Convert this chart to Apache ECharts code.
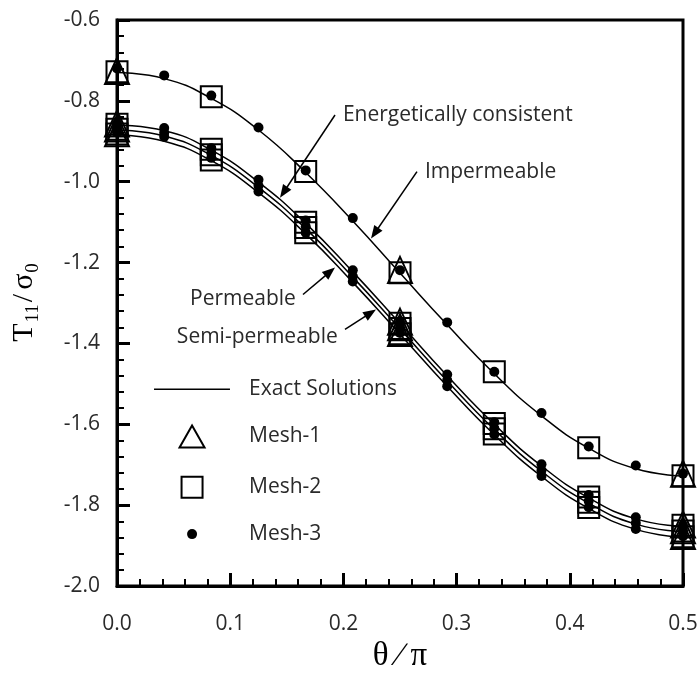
<!DOCTYPE html>
<html><head><meta charset="utf-8">
<script src="https://cdn.jsdelivr.net/npm/echarts@6/dist/echarts.min.js"></script>
<style>html,body{margin:0;padding:0;background:#fff}#c{width:700px;height:673px}</style>
</head><body><div id="c"></div>
<script>
// theta / pi sample positions
const theta = [0,0.0417,0.0833,0.125,0.1667,0.2083,0.25,0.2917,0.3333,0.375,0.4167,0.4583,0.5];
const theta2 = [0,0.0833,0.1667,0.25,0.3333,0.4167,0.5];
const theta1 = [0,0.25,0.5];

// Exact solutions (lines)
const exactImpermeable = [-0.730,-0.745,-0.794,-0.872,-0.977,-1.097,-1.226,-1.354,-1.475,-1.579,-1.659,-1.710,-1.728];
const exactEnergetic   = [-0.860,-0.874,-0.922,-1.001,-1.103,-1.223,-1.351,-1.480,-1.600,-1.703,-1.782,-1.834,-1.853];
const exactPermeable   = [-0.872,-0.887,-0.935,-1.014,-1.116,-1.236,-1.364,-1.493,-1.613,-1.716,-1.795,-1.847,-1.866];
const exactSemi        = [-0.884,-0.900,-0.948,-1.027,-1.129,-1.249,-1.377,-1.506,-1.626,-1.729,-1.808,-1.860,-1.880];

// Mesh-1 (triangles)
const mesh1Imp  = [-0.726,-1.218,-1.722];
const mesh1Ene  = [-0.856,-1.346,-1.848];
const mesh1Perm = [-0.868,-1.360,-1.862];
const mesh1Semi = [-0.880,-1.374,-1.876];

// Mesh-2 (squares)
const mesh2Imp  = [-0.728,-0.790,-0.975,-1.225,-1.470,-1.658,-1.727];
const mesh2Ene  = [-0.858,-0.920,-1.100,-1.350,-1.598,-1.780,-1.850];
const mesh2Perm = [-0.870,-0.933,-1.113,-1.363,-1.611,-1.793,-1.864];
const mesh2Semi = [-0.882,-0.946,-1.126,-1.376,-1.624,-1.806,-1.878];

// Mesh-3 (dots)
const mesh3Imp  = [-0.720,-0.737,-0.787,-0.866,-0.972,-1.090,-1.219,-1.348,-1.470,-1.572,-1.655,-1.702,-1.722];
const mesh3Ene  = [-0.856,-0.867,-0.917,-0.995,-1.096,-1.219,-1.346,-1.477,-1.595,-1.699,-1.775,-1.830,-1.850];
const mesh3Perm = [-0.866,-0.879,-0.929,-1.010,-1.111,-1.234,-1.360,-1.491,-1.610,-1.714,-1.790,-1.844,-1.863];
const mesh3Semi = [-0.878,-0.889,-0.941,-1.024,-1.126,-1.247,-1.374,-1.506,-1.625,-1.728,-1.805,-1.859,-1.877];

const legendLabels = ['Exact Solutions','Mesh-1','Mesh-2','Mesh-3'];

const zip = (xs, ys) => xs.map((x, i) => [x, ys[i]]);
const FONT = 'Open Sans';
const SERIF = 'Liberation Serif';
const TXT = '#2a2a2a';

const chart = echarts.init(document.getElementById('c'), null, {renderer: 'canvas'});

const lineSeries = (name, ys) => ({
  name, type: 'line', data: zip(theta, ys), smooth: true, showSymbol: false, symbol: 'none',
  lineStyle: {color: '#000', width: 1.5}, z: 2, silent: true
});
const markerStyle = {color: 'rgba(0,0,0,0)', borderColor: '#000', borderWidth: 2, opacity: 1};
const triSeries = ys => ({type: 'scatter', data: zip(theta1, ys), symbol: 'triangle', symbolSize: [24, 26],
  itemStyle: markerStyle, z: 3, clip: false, silent: true});
const sqSeries = ys => ({type: 'scatter', data: zip(theta2, ys), symbol: 'rect', symbolSize: 21,
  itemStyle: markerStyle, z: 4, clip: false, silent: true});
const dotSeries = ys => ({type: 'scatter', data: zip(theta, ys), symbol: 'circle', symbolSize: 10,
  itemStyle: {color: '#000', opacity: 1}, z: 5, clip: false, silent: true});

chart.setOption({
  animation: false,
  backgroundColor: '#fff',
  grid: {left: 117, right: 17, top: 20, bottom: 87, show: true, borderColor: '#000', borderWidth: 3,
         containLabel: false, outerBoundsMode: 'none'},
  xAxis: {
    type: 'value', min: 0, max: 0.5, interval: 0.1,
    name: 'θ ∕ π', nameLocation: 'middle', nameGap: 52,
    nameTextStyle: {fontFamily: SERIF, fontSize: 33, color: '#000'},
    axisLine: {show: true, onZero: false, lineStyle: {color: '#000', width: 3}},
    axisTick: {show: true, inside: true, length: 13, lineStyle: {color: '#000', width: 3}},
    minorTick: {show: true, splitNumber: 5, length: 7, lineStyle: {color: '#000', width: 2}},
    splitLine: {show: false},
    axisLabel: {margin: 28, fontFamily: FONT, fontSize: 21, color: TXT, formatter: v => v.toFixed(1)}
  },
  yAxis: {
    type: 'value', min: -2.0, max: -0.6, interval: 0.2,
    name: '{t|T}{s|11}{k|/}{t|σ}{s|0}', nameLocation: 'middle', nameGap: 78, nameRotate: 90,
    nameTextStyle: {fontFamily: SERIF, fontSize: 30, color: '#000',
      rich: {t: {fontFamily: SERIF, fontSize: 30, color: '#000', padding: [0, 1, 0, 1]},
             k: {fontFamily: SERIF, fontSize: 30, color: '#000', padding: [0, 3, 0, 2]},
             s: {fontFamily: SERIF, fontSize: 19, color: '#000', verticalAlign: 'bottom', padding: [0, 0, -4, 0]}}},
    axisLine: {show: true, onZero: false, lineStyle: {color: '#000', width: 3}},
    axisTick: {show: true, inside: true, length: 13, lineStyle: {color: '#000', width: 3}},
    minorTick: {show: true, splitNumber: 5, length: 7, lineStyle: {color: '#000', width: 2}},
    splitLine: {show: false},
    axisLabel: {margin: 17, fontFamily: FONT, fontSize: 21, color: TXT, formatter: v => v.toFixed(1)}
  },
  series: [
    lineSeries('Impermeable', exactImpermeable),
    lineSeries('Energetically consistent', exactEnergetic),
    lineSeries('Permeable', exactPermeable),
    lineSeries('Semi-permeable', exactSemi),
    triSeries(mesh1Imp), triSeries(mesh1Ene), triSeries(mesh1Perm), triSeries(mesh1Semi),
    sqSeries(mesh2Imp), sqSeries(mesh2Ene), sqSeries(mesh2Perm), sqSeries(mesh2Semi),
    dotSeries(mesh3Imp), dotSeries(mesh3Ene), dotSeries(mesh3Perm), dotSeries(mesh3Semi)
  ]
});

// annotations & legend positioned in data coordinates
const P = (x, y) => chart.convertToPixel({gridIndex: 0}, [x, y]);
const g = [];
function text(str, pt, align) {
  g.push({type: 'text', x: pt[0], y: pt[1], z: 10, silent: true,
    style: {text: str, fontFamily: FONT, fontSize: 21, fill: TXT, align: align || 'left', verticalAlign: 'middle'}});
}
function arrow(a, b) {
  const dx = b[0] - a[0], dy = b[1] - a[1], L = Math.hypot(dx, dy), ux = dx / L, uy = dy / L;
  const hl = 13, hw = 5;
  const bx = b[0] - ux * hl, by = b[1] - uy * hl;
  g.push({type: 'line', z: 10, silent: true, shape: {x1: a[0], y1: a[1], x2: bx + ux * 2, y2: by + uy * 2},
    style: {stroke: '#000', lineWidth: 1.5}});
  g.push({type: 'polygon', z: 10, silent: true,
    shape: {points: [[b[0], b[1]], [bx - uy * hw, by + ux * hw], [bx + uy * hw, by - ux * hw]]},
    style: {fill: '#000'}});
}
text('Energetically consistent', P(0.1996, -0.835));
arrow(P(0.1926, -0.835), P(0.1440, -1.0395));
text('Impermeable', P(0.2720, -0.975));
arrow(P(0.2650, -0.975), P(0.2244, -1.1407));
text('Permeable', P(0.1580, -1.291), 'right');
arrow(P(0.1643, -1.279), P(0.1926, -1.2123));
text('Semi-permeable', P(0.1950, -1.383), 'right');
arrow(P(0.2014, -1.3654), P(0.2288, -1.316));

// legend
const l1 = P(0.0327, -1.5136), l2 = P(0.0998, -1.5136);
g.push({type: 'line', z: 10, silent: true, shape: {x1: l1[0], y1: l1[1], x2: l2[0], y2: l2[1]}, style: {stroke: '#000', lineWidth: 1.5}});
text(legendLabels[0], P(0.1166, -1.5136));
const t1 = P(0.0663, -1.630);
g.push({type: 'polygon', z: 10, silent: true,
  shape: {points: [[t1[0], t1[1] - 11], [t1[0] - 12.5, t1[1] + 11], [t1[0] + 12.5, t1[1] + 11]]},
  style: {fill: 'none', stroke: '#000', lineWidth: 2}});
text(legendLabels[1], P(0.1166, -1.630));
const s1 = P(0.0663, -1.7556);
g.push({type: 'rect', z: 10, silent: true, shape: {x: s1[0] - 10.5, y: s1[1] - 10.5, width: 21, height: 21},
  style: {fill: 'none', stroke: '#000', lineWidth: 2}});
text(legendLabels[2], P(0.1166, -1.7556));
const d1 = P(0.0663, -1.8716);
g.push({type: 'circle', z: 10, silent: true, shape: {cx: d1[0], cy: d1[1], r: 5}, style: {fill: '#000'}});
text(legendLabels[3], P(0.1166, -1.8716));

chart.setOption({graphic: g});
</script></body></html>
